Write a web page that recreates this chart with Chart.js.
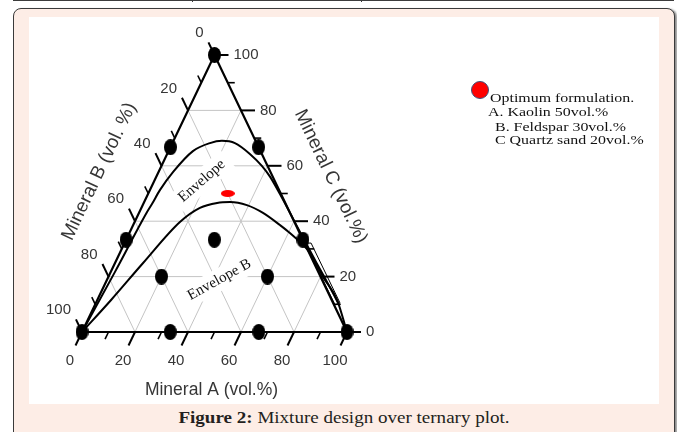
<!DOCTYPE html>
<html>
<head>
<meta charset="utf-8">
<script src="https://cdn.jsdelivr.net/npm/chart.js@4/dist/chart.umd.min.js"></script>
<style>
  html, body { margin: 0; padding: 0; background: #fff; }
  body { width: 677px; height: 432px; overflow: hidden; position: relative; }
  .prev { position: absolute; left: 13px; top: 0; width: 661px; height: 0; border-top: 1.5px solid #3c3c3c; }
  .prev i { position: absolute; top: -3px; width: 1px; height: 4px; background: #3c3c3c; }
  .frame {
    position: absolute; left: 13px; top: 8px; width: 662px; height: 450px;
    box-sizing: border-box; border: 1.5px solid #3a3a3a; border-radius: 8px;
    background: #fdede6; box-shadow: 2px 1px 2px rgba(0,0,0,0.45);
  }
  #chart { position: absolute; left: 29px; top: 17px; width: 630px; height: 387px; background: #fff; }
  .caption {
    position: absolute; left: 29px; top: 406px; width: 630px; height: 24px;
    line-height: 24px; text-align: center; color: #231f20;
    font-family: "Liberation Serif", serif; font-size: 17px;
    transform: scaleX(1.12); transform-origin: 315px 12px; white-space: nowrap;
  }
  .caption b { font-weight: bold; }
</style>
</head>
<body>
<div class="prev"><i style="left:179px"></i><i style="left:348px"></i></div>
<div class="frame"></div>
<canvas id="chart" width="630" height="387"></canvas>
<div class="caption"><b>Figure 2:</b> Mixture design over ternary plot.</div>

<script>
// Design points of the mixture experiment, vol.% of each mineral
const mineralA = [0, 0, 33.3, 0, 33.3, 66.7, 20, 60, 0, 33.3, 66.7, 100];
const mineralB = [0, 33.3, 0, 66.7, 33.3, 0, 60, 20, 100, 66.7, 33.3, 0];
const mineralC = [100, 66.7, 66.7, 33.3, 33.3, 33.3, 20, 20, 0, 0, 0, 0];

// Outer envelope boundary (A and C in vol.%, B is the remainder)
const envelopeA = [0, 1.6, 2.9, 3.3, 3.8, 5.5, 9.2, 14.2, 18.3, 23.6, 31.2, 38.0, 43.0, 49.8, 57.0, 64.2, 74.9, 83.4, 91.4];
const envelopeC = [0, 21.7, 43.3, 46.2, 51.3, 57.8, 65.3, 68.2, 69.0, 68.2, 64.3, 59.9, 56.0, 49.8, 43.0, 36.1, 26.0, 18.1, 10.5];

// Envelope B boundary
const envelopeBA = [0, 5.2, 10.6, 17.1, 22.1, 27.7, 32.4, 39.3, 46.8, 55.4, 60.6, 71.8, 81.0, 90.5, 100];
const envelopeBC = [0, 11.55, 24.9, 39.7, 44.8, 46.6, 46.9, 45.8, 43.0, 38.6, 35.7, 28.5, 19.9, 11.55, 0];

// Narrow strip drawn along the lower end of the outer envelope
const stripA = [68.1, 70.4, 92.1, 90.6, 68.1];
const stripC = [32.1, 32.1, 10.5, 9.8, 32.1];

// Optimum formulation
const optimumNames = ['A. Kaolin', 'B. Feldspar', 'C Quartz sand'];
const optimumValues = [50, 30, 20];

// Axes
const tickValues = [0, 20, 40, 60, 80, 100];
const tickLabels = ['0', '20', '40', '60', '80', '100'];
const minorTicks = [10, 30, 50, 70, 90];
const gridLevels = [20, 40, 60, 80];
const axisTitles = ['Mineral A (vol.%)', 'Mineral B (vol. %)', 'Mineral C (vol.%)'];
const envelopeNames = ['Envelope', 'Envelope B'];

// ternary (A, C) -> cartesian point on the equilateral layout
const tern = (a, c) => ({ x: a + c / 2, y: c });

function ellipseMark(w, h, color) {
  const c = document.createElement('canvas');
  c.width = w; c.height = h;
  const g = c.getContext('2d');
  g.fillStyle = color;
  g.beginPath();
  g.ellipse(w / 2, h / 2, w / 2, h / 2, 0, 0, Math.PI * 2);
  g.fill();
  return c;
}

const designPoints = mineralA.map((a, i) => tern(a, mineralC[i]));
// kaolin is read on the vertical (C) direction, feldspar along the base, quartz sand as remainder
const optimumPoint = [tern(optimumValues[1], optimumValues[0])];

const envelopeLabels = [
  { text: envelopeNames[0], a: 18.0, c: 54.5, angle: -41 },
  { text: envelopeNames[1], a: 42.4, c: 18.9, angle: -29 }
];

const ternaryAxes = {
  id: 'ternaryAxes',
  beforeDatasetsDraw(chart) {
    const ctx = chart.ctx;
    const P = (a, c) => ({ x: chart.scales.x.getPixelForValue(a + c / 2), y: chart.scales.y.getPixelForValue(c) });
    const seg = (p, q) => { ctx.beginPath(); ctx.moveTo(p.x, p.y); ctx.lineTo(q.x, q.y); ctx.stroke(); };
    ctx.save();
    ctx.strokeStyle = '#c4c4c4';
    ctx.lineWidth = 1;
    gridLevels.forEach(v => {
      seg(P(0, v), P(100 - v, v));
      seg(P(v, 100 - v), P(v, 0));
      seg(P(0, 100 - v), P(100 - v, 0));
    });
    // white panels behind the envelope names
    ctx.font = '15px "Liberation Serif"';
    envelopeLabels.forEach(l => {
      const p = P(l.a, l.c);
      const w = ctx.measureText(l.text).width;
      ctx.save();
      ctx.translate(p.x, p.y);
      ctx.rotate(l.angle * Math.PI / 180);
      ctx.fillStyle = '#fff';
      ctx.fillRect(-w / 2 - 6, -11, w + 12, 22);
      ctx.restore();
    });
    ctx.restore();
  },
  afterDatasetsDraw(chart) {
    const ctx = chart.ctx;
    const P = (a, c) => ({ x: chart.scales.x.getPixelForValue(a + c / 2), y: chart.scales.y.getPixelForValue(c) });
    const L = P(0, 0), R = P(100, 0), T = P(0, 100);
    const unit = (dx, dy) => { const n = Math.hypot(dx, dy); return { x: dx / n, y: dy / n }; };
    const dirA = unit(L.x - T.x, L.y - T.y);   // ticks below the base
    const dirB = unit(T.x - R.x, T.y - R.y);   // ticks left of the left side
    const dirC = { x: 1, y: 0 };                // ticks right of the right side
    const tick = (p, d, len) => { ctx.beginPath(); ctx.moveTo(p.x, p.y); ctx.lineTo(p.x + d.x * len, p.y + d.y * len); ctx.stroke(); };

    ctx.save();
    ctx.strokeStyle = '#000';
    ctx.lineCap = 'butt';
    ctx.lineWidth = 2;
    tickValues.forEach(v => {
      tick(P(v, 0), dirA, 15);
      tick(P(0, 100 - v), dirB, 14);
      tick(P(100 - v, v), dirC, 14);
    });
    ctx.lineWidth = 1.6;
    minorTicks.forEach(v => {
      tick(P(v, 0), dirA, 8);
      tick(P(0, 100 - v), dirB, 8);
      tick(P(100 - v, v), dirC, 7);
    });

    // tick labels
    ctx.fillStyle = '#363636';
    ctx.font = '15px "Liberation Sans", Arial, sans-serif';
    ctx.textBaseline = 'middle';
    tickValues.forEach((v, i) => {
      let p = P(v, 0);
      ctx.textAlign = 'center';
      ctx.fillText(tickLabels[i], p.x - 12, p.y + 29);
      p = P(0, 100 - v);
      ctx.textAlign = 'right';
      ctx.fillText(tickLabels[i], p.x - 11, p.y - 22);
      p = P(100 - v, v);
      ctx.textAlign = 'left';
      ctx.fillText(tickLabels[i], p.x + 19, p.y);
    });

    // axis titles
    ctx.textAlign = 'center';
    ctx.font = '17.5px "Liberation Sans", Arial, sans-serif';
    ctx.fillText(axisTitles[0], (L.x + R.x) / 2 - 3, L.y + 58);
    ctx.font = '19px "Liberation Sans", Arial, sans-serif';
    const midL = { x: (L.x + T.x) / 2, y: (L.y + T.y) / 2 };
    ctx.save();
    ctx.translate(midL.x - 49, midL.y - 22);
    ctx.rotate(Math.atan2(T.y - L.y, T.x - L.x));
    ctx.fillText(axisTitles[1], 0, 0);
    ctx.restore();
    const midR = { x: (R.x + T.x) / 2, y: (R.y + T.y) / 2 };
    ctx.save();
    ctx.translate(midR.x + 50, midR.y - 17);
    ctx.rotate(Math.atan2(R.y - T.y, R.x - T.x));
    ctx.fillText(axisTitles[2], 0, 0);
    ctx.restore();

    // envelope names
    ctx.fillStyle = '#111';
    ctx.font = '15px "Liberation Serif", serif';
    envelopeLabels.forEach(l => {
      const p = P(l.a, l.c);
      ctx.save();
      ctx.translate(p.x, p.y);
      ctx.rotate(l.angle * Math.PI / 180);
      ctx.fillText(l.text, 0, 0);
      ctx.restore();
    });

    // optimum formulation key
    ctx.beginPath();
    ctx.arc(451, 73, 8.5, 0, Math.PI * 2);
    ctx.fillStyle = '#ff0000';
    ctx.fill();
    ctx.lineWidth = 1;
    ctx.strokeStyle = '#3f4f7a';
    ctx.stroke();
    ctx.fillStyle = '#111';
    ctx.textAlign = 'left';
    ctx.font = '13.5px "Liberation Serif", serif';
    const lines = ['Optimum formulation.'].concat(optimumNames.map((n, i) => n + ' ' + optimumValues[i] + 'vol.%'));
    const xs = [461, 459, 466, 466];
    const ys = [81, 95, 110, 123];
    lines.forEach((t, i) => {
      ctx.save();
      ctx.translate(xs[i], ys[i]);
      ctx.scale(1.18, 1);
      ctx.fillText(t, 0, 0);
      ctx.restore();
    });
    ctx.restore();
  }
};

const lineSet = (data, width, order) => ({
  data, showLine: true, borderColor: '#000', borderWidth: width,
  pointRadius: 0, pointHoverRadius: 0, fill: false, clip: false, order
});

new Chart(document.getElementById('chart'), {
  type: 'scatter',
  data: {
    datasets: [
      {
        data: designPoints, pointStyle: ellipseMark(13, 16, '#000'),
        pointRadius: 7, showLine: false, clip: false, order: 0
      },
      {
        data: optimumPoint, pointStyle: ellipseMark(14, 7, '#ff0000'),
        pointRadius: 7, showLine: false, clip: false, order: 0
      },
      lineSet([tern(0, 0), tern(100, 0), tern(0, 100), tern(0, 0)], 2.2, 1),
      Object.assign(lineSet(envelopeA.map((a, i) => tern(a, envelopeC[i])), 2, 2), { cubicInterpolationMode: 'monotone' }),
      Object.assign(lineSet(envelopeBA.map((a, i) => tern(a, envelopeBC[i])), 2, 2), { cubicInterpolationMode: 'monotone' }),
      lineSet(stripA.map((a, i) => tern(a, stripC[i])), 1, 2)
    ]
  },
  options: {
    responsive: false,
    animation: false,
    events: [],
    layout: { padding: { left: 53, right: 312, top: 38, bottom: 72 } },
    scales: {
      x: { type: 'linear', min: 0, max: 100, display: false },
      y: { type: 'linear', min: 0, max: 100, display: false }
    },
    plugins: { legend: { display: false }, tooltip: { enabled: false } }
  },
  plugins: [ternaryAxes]
});
</script>
</body>
</html>
